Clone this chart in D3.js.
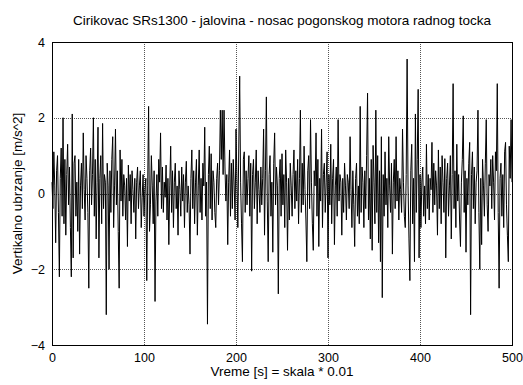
<!DOCTYPE html>
<html><head><meta charset="utf-8">
<script src="https://cdn.jsdelivr.net/npm/d3@7"></script>
<style>body{margin:0;background:#fff}svg{display:block}text{font-family:"Liberation Sans",Arial,sans-serif;fill:#000}</style>
</head><body>
<script>
const title = "Cirikovac SRs1300 - jalovina - nosac pogonskog motora radnog tocka";
const xLabel = "Vreme [s] = skala * 0.01";
const yLabel = "Vertikalno ubrzanje [m/s^2]";
const xTicks = [0, 100, 200, 300, 400, 500];
const yTicks = [-4, -2, 0, 2, 4];
const values = [
0.3,-0.4,1.1,0.2,-1.3,0.6,1.0,-0.5,-2.2,0.4,
1.2,-0.6,2.0,-0.8,0.9,-1.1,0.5,1.3,-0.3,0.7,
-0.9,-2.2,2.1,-1.7,0.8,1.0,-0.6,0.3,-1.0,0.9,
-1.6,0.2,0.8,-0.4,1.6,0.1,-0.7,1.0,0.4,-0.5,
-2.5,0.6,1.2,-0.3,0.5,2.0,-0.6,0.9,-1.2,0.3,
1.75,-1.7,0.4,1.0,-0.8,1.85,-0.4,0.5,0.3,-3.2,
0.8,0.2,-2.0,0.6,-0.5,0.9,1.5,-0.9,0.2,1.7,
-0.3,0.6,-1.0,-2.5,1.15,-0.2,0.9,-0.6,0.5,0.2,
-0.7,0.4,-1.4,0.75,-0.2,0.5,-0.8,0.6,0.1,-0.5,
0.4,-1.2,0.3,0.7,-0.4,0.2,0.6,-0.9,-0.1,0.5,
-0.6,0.1,0.4,-2.3,0.2,2.3,-1.0,-0.3,1.0,0.2,
-0.8,0.6,-2.85,-0.2,0.5,-0.6,0.9,0.3,1.6,-0.4,
0.7,-0.5,0.3,-0.1,0.75,-0.7,0.4,-1.35,0.2,1.25,
-0.5,0.6,-0.9,0.3,0.8,-0.4,0.2,-1.1,0.6,0.1,
-0.6,0.7,-0.2,0.5,-0.9,0.3,0.85,-0.5,0.2,-0.3,
-1.6,0.4,1.15,-0.4,0.6,-0.8,0.3,0.9,-1.1,0.2,
1.15,-0.5,0.4,-0.7,0.8,0.2,1.75,-0.6,0.3,-3.45,
0.5,1.25,-0.4,1.05,-0.7,0.6,0.3,-0.5,-0.9,0.4,
0.8,-0.3,0.6,2.2,0.9,2.2,0.5,2.2,0.7,-0.2,
0.5,-1.35,0.3,1.15,-0.6,0.8,-0.4,0.9,0.2,-0.7,
1.7,0.4,-0.9,1.2,3.1,0.3,-0.8,-1.8,0.9,1.1,
-0.5,0.6,-0.3,0.4,1.0,-0.6,0.8,-2.05,0.5,0.9,
-0.4,0.3,1.15,-0.8,0.6,0.1,-0.5,0.7,-0.3,0.4,
1.7,-1.1,0.6,2.55,-0.2,-1.8,0.5,1.0,-0.6,0.3,
-1.55,0.8,1.6,-0.3,0.7,0.2,-2.65,0.4,0.9,-0.6,
1.05,-0.3,0.5,-0.9,1.15,0.3,-1.5,0.4,-0.7,0.8,
0.2,-0.6,0.5,1.15,-0.4,0.6,-0.2,0.9,-0.8,0.4,
2.2,-0.5,0.8,-0.3,1.25,0.1,-0.7,-1.8,0.6,1.0,
-0.4,1.95,0.3,-0.8,-1.5,0.6,0.2,1.6,-0.6,0.9,
-1.4,0.4,-0.2,1.7,-0.9,0.5,0.8,-0.5,0.3,1.1,
-1.7,0.5,-0.3,1.3,-0.8,0.4,0.9,-1.35,0.2,0.7,
-0.6,1.95,-0.2,0.5,0.3,-1.1,0.4,-0.5,0.8,0.2,
-0.7,0.5,0.3,-0.4,1.5,0.1,-0.9,0.6,-0.3,-1.4,
0.4,0.8,-0.6,0.2,-0.8,2.3,-0.5,0.7,0.3,-0.9,
0.6,-0.4,1.0,2.65,-0.7,0.4,-1.2,0.9,-1.5,1.27,
0.3,-0.8,2.2,-0.5,1.0,-1.3,0.6,-1.8,1.5,-2.75,
0.5,-0.6,1.1,-0.3,0.4,-0.9,1.5,0.2,-0.5,0.8,
-1.6,0.3,0.9,-0.4,1.5,-0.2,0.6,-0.7,0.4,0.1,
-0.5,1.7,0.3,-0.6,-0.9,0.5,3.55,0.2,-1.2,-2.3,
0.6,1.3,-0.8,0.4,-1.8,2.1,-0.5,0.9,2.75,-1.7,
0.5,-0.9,0.3,0.7,-0.6,0.2,-0.8,1.3,-0.4,0.5,
-0.7,0.4,0.1,1.35,-0.5,0.8,-0.3,0.6,0.2,-1.1,
1.15,-0.4,0.7,-0.8,1.0,0.3,-0.5,0.92,-1.7,0.4,
0.8,-0.6,0.2,1.0,-1.2,0.5,2.9,-0.4,0.6,-0.9,
1.3,-0.2,0.5,-0.7,-1.4,0.3,0.9,2.05,-0.5,0.6,
-1.55,0.4,-0.3,0.8,1.35,-3.2,0.5,1.1,-0.4,0.7,
-0.8,0.3,0.6,2.2,-0.5,-2.0,0.4,-1.35,0.9,0.2,
-0.6,0.8,1.95,-0.3,-1.0,0.5,0.2,0.9,-0.4,1.0,
0.3,-0.7,1.1,0.6,2.9,-0.5,-2.5,0.4,0.8,-0.6,
0.5,-0.9,1.1,1.35,-0.3,-1.1,-1.8,1.25,0.4,1.95,
0.3
];

const W = 523, H = 385;
const m = {left: 52, right: 11, top: 42, bottom: 40};
const svg = d3.select("body").append("svg").attr("width", W).attr("height", H);
const x = d3.scaleLinear().domain([0, 500]).range([m.left, W - m.right]);
const y = d3.scaleLinear().domain([-4, 4]).range([H - m.bottom, m.top]);

// grid
const g = svg.append("g");
g.selectAll(".vg").data(xTicks.slice(1, -1)).join("line")
  .attr("x1", d => Math.round(x(d)) + 0.5).attr("x2", d => Math.round(x(d)) + 0.5)
  .attr("y1", y(4)).attr("y2", y(-4))
  .attr("stroke", "#555").attr("stroke-width", 1).attr("stroke-dasharray", "1,1");
g.selectAll(".hg").data(yTicks.slice(1, -1)).join("line")
  .attr("y1", d => Math.round(y(d)) + 0.5).attr("y2", d => Math.round(y(d)) + 0.5)
  .attr("x1", x(0)).attr("x2", x(500))
  .attr("stroke", "#555").attr("stroke-width", 1).attr("stroke-dasharray", "1,1");

// line
const line = d3.line().x((d, i) => x(i)).y(d => y(d));
svg.append("path").datum(values).attr("d", line)
  .attr("fill", "none").attr("stroke", "#000").attr("stroke-width", 1);

// frame
svg.append("rect").attr("x", Math.round(x(0)) + 0.5).attr("y", Math.round(y(4)) + 0.5)
  .attr("width", Math.round(x(500)) - Math.round(x(0))).attr("height", Math.round(y(-4)) - Math.round(y(4)))
  .attr("fill", "none").attr("stroke", "#000").attr("stroke-width", 1);

// axes
const xAxis = d3.axisBottom(x).tickValues(xTicks).tickSize(0).tickPadding(8);
svg.append("g").attr("transform", `translate(0,${y(-4)})`).call(xAxis)
  .call(s => s.select(".domain").remove())
  .selectAll("text").style("font-size", "12.5px").attr("fill", "#000");
const yAxis = d3.axisLeft(y).tickValues(yTicks).tickSize(0).tickPadding(7);
svg.append("g").attr("transform", `translate(${x(0)},0)`).call(yAxis)
  .call(s => s.select(".domain").remove())
  .selectAll("text").style("font-size", "12.5px").attr("fill", "#000");

svg.append("text").attr("x", (x(0) + x(500)) / 2).attr("y", 25)
  .attr("text-anchor", "middle").style("font-size", "13.5px").text(title);
svg.append("text").attr("x", (x(0) + x(500)) / 2).attr("y", 376)
  .attr("text-anchor", "middle").style("font-size", "13.5px").text(xLabel);
svg.append("text").attr("transform", `translate(22,${(y(4) + y(-4)) / 2}) rotate(-90)`)
  .attr("text-anchor", "middle").style("font-size", "13.5px").text(yLabel);
</script>
</body></html>
